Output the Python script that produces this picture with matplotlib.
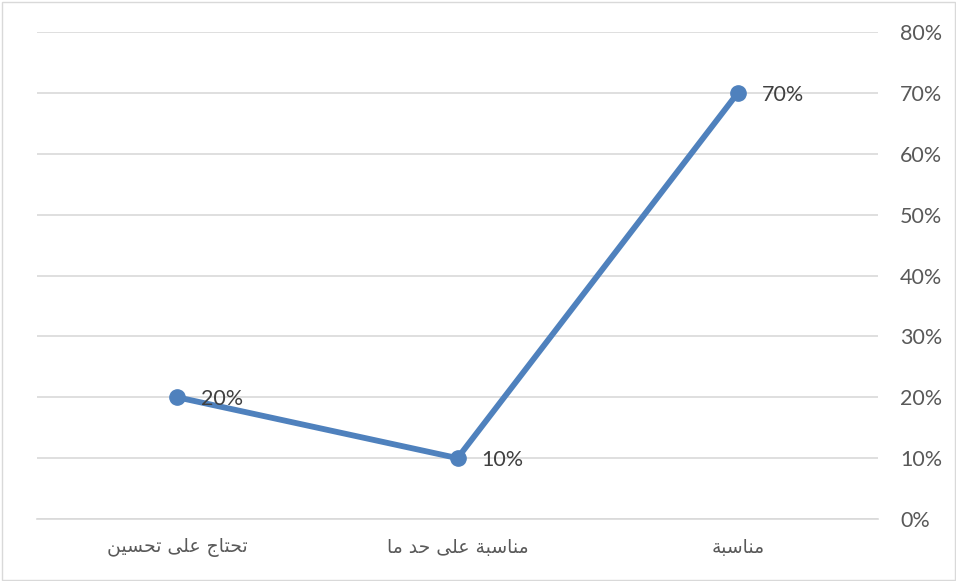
import matplotlib
matplotlib.use("Agg")
import matplotlib.pyplot as plt
from matplotlib.patches import Rectangle

# ---- data (logical Arabic order, as in the source) ----
categories = ["مناسبة", "مناسبة على حد ما", "تحتاج على تحسين"]
values = [70, 10, 20]
y_ticks = [0, 10, 20, 30, 40, 50, 60, 70, 80]

# ---- minimal Arabic shaping (matplotlib has no bidi/shaping) ----
FORMS = {  # isolated, final, initial, medial
    "ا": ("\uFE8D", "\uFE8E", None, None),
    "ب": ("\uFE8F", "\uFE90", "\uFE91", "\uFE92"),
    "ت": ("\uFE95", "\uFE96", "\uFE97", "\uFE98"),
    "ج": ("\uFE9D", "\uFE9E", "\uFE9F", "\uFEA0"),
    "ح": ("\uFEA1", "\uFEA2", "\uFEA3", "\uFEA4"),
    "د": ("\uFEA9", "\uFEAA", None, None),
    "س": ("\uFEB1", "\uFEB2", "\uFEB3", "\uFEB4"),
    "ع": ("\uFEC9", "\uFECA", "\uFECB", "\uFECC"),
    "ل": ("\uFEDD", "\uFEDE", "\uFEDF", "\uFEE0"),
    "م": ("\uFEE1", "\uFEE2", "\uFEE3", "\uFEE4"),
    "ن": ("\uFEE5", "\uFEE6", "\uFEE7", "\uFEE8"),
    "ة": ("\uFE93", "\uFE94", None, None),
    "ى": ("\uFEEF", "\uFEF0", None, None),
    "ي": ("\uFEF1", "\uFEF2", "\uFEF3", "\uFEF4"),
}


def shape(text):
    out = []
    n = len(text)
    for i, ch in enumerate(text):
        if ch not in FORMS:
            out.append(ch)
            continue
        iso, fin, ini, med = FORMS[ch]
        prev = text[i - 1] if i > 0 else ""
        nxt = text[i + 1] if i < n - 1 else ""
        pj = prev in FORMS and FORMS[prev][2] is not None
        nj = nxt in FORMS and ini is not None
        if pj and nj:
            out.append(med)
        elif pj:
            out.append(fin)
        elif nj:
            out.append(ini)
        else:
            out.append(iso)
    return "".join(out)[::-1]


W, H = 956, 581
fig = plt.figure(figsize=(W / 100, H / 100), dpi=100)
fig.patches.append(Rectangle((1.5 / W, 1.5 / H), 1 - 3 / W, 1 - 3 / H,
                             transform=fig.transFigure, fill=False,
                             edgecolor="#d9d9d9", linewidth=1.0))

left, right, top, bottom = 37, 878, 32, 519
ax = fig.add_axes([left / W, 1 - bottom / H, (right - left) / W, (bottom - top) / H])

# reversed category axis (right-to-left): first category at the right
xs = [len(categories) - 1 - i for i in range(len(categories))]
line_color = "#4F81BD"
ax.plot(xs, values, color=line_color, linewidth=4.2, marker="o",
        markersize=11, markerfacecolor=line_color, markeredgecolor=line_color,
        solid_capstyle="round", zorder=3)

for x, v in zip(xs, values):
    ax.annotate(f"{v}%", (x, v), xytext=(17, -1.5), textcoords="offset points",
                ha="left", va="center", fontsize=15.5, color="#404040",
                family="Lato", zorder=4)

ax.set_xlim(-0.5, len(categories) - 0.5)
ax.set_ylim(0, 80)
ax.set_yticks(y_ticks)
ax.set_yticklabels([f"{t}%" for t in y_ticks])
ax.yaxis.tick_right()
ax.tick_params(axis="y", length=0, pad=16, labelsize=15.5, labelcolor="#595959")
for lab in ax.get_yticklabels():
    lab.set_family("Lato")
ax.grid(axis="y", color="#d9d9d9", linewidth=1.2, zorder=0)
ax.set_axisbelow(True)
ax.set_xticks(xs)
ax.set_xticklabels([shape(c) for c in categories], fontsize=13.5, color="#595959",
                   family="DejaVu Sans")
ax.tick_params(axis="x", length=0, pad=14)
for s in ax.spines.values():
    s.set_visible(False)
ax.spines["bottom"].set_visible(True)
ax.spines["bottom"].set_color("#d9d9d9")
ax.spines["bottom"].set_linewidth(1.2)

fig.savefig("out.png", dpi=100)
